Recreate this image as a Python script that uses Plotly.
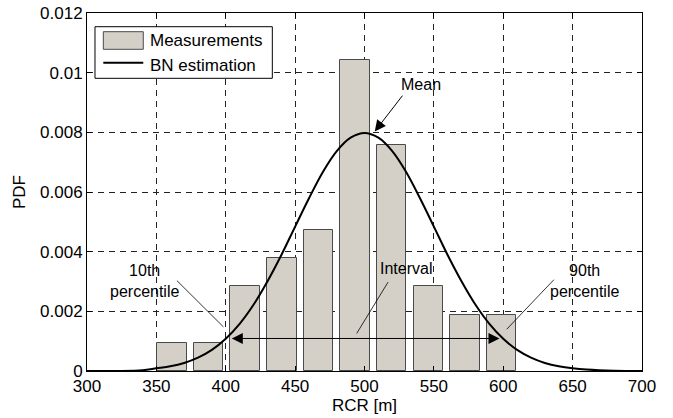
import plotly.graph_objects as go

bin_centers = [361.2, 387.6, 414.0, 440.4, 466.8, 493.2, 519.6, 546.0, 572.4, 598.8]
pdf_measured = [0.00095, 0.00095, 0.00284, 0.00379, 0.00474, 0.01042, 0.00758, 0.00284, 0.00189, 0.00189]
bar_width = 21.3

# BN estimation curve
curve_x = [300, 320, 340, 350, 360, 370, 380, 390, 400, 410, 420, 430, 440, 450, 460, 470, 480, 490,
           500, 510, 520, 530, 540, 550, 560, 570, 580, 590, 600, 610, 620, 630, 640, 650, 660, 680, 700]
curve_y = [0.0, 0.000002, 0.000024, 0.000089, 0.000158, 0.000271, 0.000448, 0.000709, 0.00108,
           0.00158, 0.00222, 0.00300, 0.00388, 0.00484, 0.00579, 0.00667, 0.00737, 0.00782,
           0.00798, 0.00782, 0.00737, 0.00667, 0.00579, 0.00484, 0.00388, 0.00300, 0.00222,
           0.00158, 0.00108, 0.000709, 0.000448, 0.000271, 0.000158, 0.000089, 0.000047, 0.000009, 0.0]

x_ticks = [300, 350, 400, 450, 500, 550, 600, 650, 700]
y_ticks = [0, 0.002, 0.004, 0.006, 0.008, 0.010, 0.012]
y_ticktext = ["0", "0.002", "0.004", "0.006", "0.008", "0.01", "0.012"]

FONT = "Liberation Sans, Arial, sans-serif"

fig = go.Figure()
fig.add_trace(go.Bar(
    x=bin_centers, y=pdf_measured, width=bar_width,
    marker=dict(color="#D4D0C8", line=dict(color="#4a4a4a", width=1)),
    name="Measurements", showlegend=False,
))
fig.add_trace(go.Scatter(
    x=curve_x, y=curve_y, mode="lines", line=dict(color="black", width=2, shape="spline"),
    name="BN estimation", showlegend=False,
))

axis_common = dict(
    showline=True, linecolor="black", linewidth=1, mirror="ticks",
    ticks="inside", ticklen=5, tickcolor="black",
    showgrid=True, gridcolor="#222222", gridwidth=1, griddash="6px,5px",
    zeroline=False, tickfont=dict(family=FONT, size=17, color="black"),
)

fig.update_xaxes(range=[300, 700], tickvals=x_ticks, ticktext=[str(v) for v in x_ticks],
                 title=dict(text="RCR [m]", font=dict(family=FONT, size=17, color="black"), standoff=2),
                 **axis_common)
fig.update_yaxes(range=[0, 0.012], tickvals=y_ticks, ticktext=y_ticktext,
                 title=dict(text="PDF", font=dict(family=FONT, size=17, color="black"), standoff=10),
                 **axis_common)

# Manual legend (MATLAB style)
shapes = [
    dict(type="rect", xref="paper", yref="paper", x0=0.0144, x1=0.3339, y0=0.8176, y1=0.9617,
         fillcolor="white", line=dict(color="black", width=1), layer="above"),
    dict(type="rect", xref="paper", yref="paper", x0=0.0294, x1=0.1014, y0=0.8986, y1=0.9478,
         fillcolor="#D4D0C8", line=dict(color="#4a4a4a", width=1), layer="above"),
    dict(type="line", xref="paper", yref="paper", x0=0.0294, x1=0.1014, y0=0.8612, y1=0.8612,
         line=dict(color="black", width=2), layer="above"),
    # leader lines
    dict(type="line", xref="x", yref="y", x0=364.8, y0=0.00303, x1=398.3, y1=0.00148,
         line=dict(color="black", width=0.8), layer="above"),
    dict(type="line", xref="x", yref="y", x0=517.0, y0=0.00298, x1=494.4, y1=0.00126,
         line=dict(color="black", width=0.8), layer="above"),
    dict(type="line", xref="x", yref="y", x0=636.5, y0=0.00306, x1=602.5, y1=0.00140,
         line=dict(color="black", width=0.8), layer="above"),
]

ann_font = dict(family=FONT, size=16, color="black")
annotations = [
    dict(xref="paper", yref="paper", x=0.1094, y=0.9218, text="Measurements", showarrow=False,
         xanchor="left", yanchor="middle", font=dict(family=FONT, size=17, color="black")),
    dict(xref="paper", yref="paper", x=0.1094, y=0.8528, text="BN estimation", showarrow=False,
         xanchor="left", yanchor="middle", font=dict(family=FONT, size=17, color="black")),
    dict(x=541, y=0.00961, text="Mean", showarrow=False, font=ann_font),
    dict(x=507.4, y=0.00803, ax=528.2, ay=0.00928, axref="x", ayref="y", text="",
         showarrow=True, arrowhead=2, arrowsize=2.2, arrowwidth=1, arrowcolor="black", standoff=0),
    dict(x=341.4, y=0.00302, text="10th<br>percentile", showarrow=False, font=ann_font),
    dict(x=530, y=0.00342, text="Interval", showarrow=False, font=ann_font),
    dict(x=658.6, y=0.00303, text="90th<br>percentile", showarrow=False, font=ann_font),
    dict(x=597.3, y=0.00109, ax=403.3, ay=0.00109, axref="x", ayref="y", text="",
         showarrow=True, arrowhead=2, startarrowhead=2, arrowside="end+start",
         arrowsize=2.2, startarrowsize=2.2, arrowwidth=1, arrowcolor="black",
         standoff=0, startstandoff=0),
]

fig.update_layout(
    width=673, height=418,
    margin=dict(l=87, r=31, t=13, b=47, autoexpand=False),
    paper_bgcolor="white", plot_bgcolor="white",
    bargap=0, showlegend=False,
    shapes=shapes, annotations=annotations,
    font=dict(family=FONT, size=17, color="black"),
)

fig.write_html("out.html", config={"displayModeBar": False},
               post_script="document.body.style.margin='0px';")
